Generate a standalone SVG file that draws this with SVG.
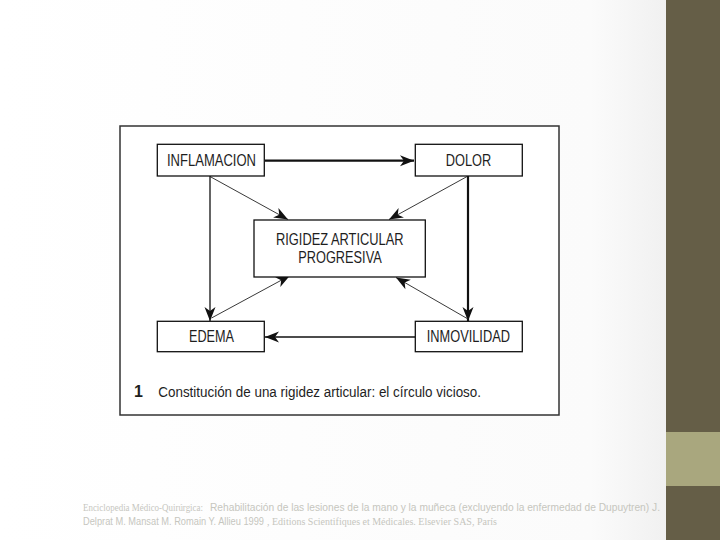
<svg xmlns="http://www.w3.org/2000/svg" width="720" height="540" viewBox="0 0 720 540">
  <defs>
    <linearGradient id="bg" x1="0" y1="0" x2="1" y2="0">
      <stop offset="0" stop-color="#ffffff"/>
      <stop offset="0.82" stop-color="#fbfbfb"/>
      <stop offset="1" stop-color="#e9e9e9"/>
    </linearGradient>
    <marker id="ah" markerUnits="userSpaceOnUse" markerWidth="18" markerHeight="12" viewBox="-15 -6 17 12" refX="0" refY="0" orient="auto">
      <path d="M0,0 L-14,-5.5 L-10,0 L-14,5.5 Z" fill="#111"/>
    </marker>
  </defs>
  <style>
    .box { fill: #fff; stroke: #111; stroke-width: 1.3; }
    .lbl { font-family: "Liberation Sans", Arial, sans-serif; font-size: 17px; fill: #1e1e1e; }
    .thick { stroke: #111; stroke-width: 2.2; fill: none; marker-end: url(#ah); }
    .mid { stroke: #111; stroke-width: 1.3; fill: none; marker-end: url(#ah); }
    .thin { stroke: #222; stroke-width: 0.9; fill: none; marker-end: url(#ah); }
    .foot { font-size: 10.5px; fill: #c6c6be; }
    .serif { font-family: "Liberation Serif", "Times New Roman", serif; }
    .sans { font-family: "Liberation Sans", Arial, sans-serif; }
  </style>

  <rect x="0" y="0" width="720" height="540" fill="url(#bg)"/>
  <rect x="666" y="0" width="54" height="540" fill="#655e47"/>
  <rect x="666" y="432" width="54" height="54" fill="#a9a77e"/>

  <rect x="120" y="126" width="439" height="289" fill="#fff" stroke="#333" stroke-width="1.5"/>

  <g id="connectors">
    <line class="thick" x1="265" y1="160.7" x2="414" y2="160.7"/>
    <line class="thin" x1="210" y1="176.5" x2="288" y2="219.5"/>
    <line class="mid" x1="210" y1="176" x2="210" y2="321"/>
    <line class="thin" x1="468" y1="176" x2="389" y2="219.5"/>
    <line class="thick" x1="468" y1="176" x2="468" y2="321"/>
    <line class="thin" x1="211.5" y1="318" x2="290" y2="275.5"/>
    <line class="thin" x1="468" y1="319" x2="396" y2="277.5"/>
    <line class="mid" x1="415" y1="337" x2="265" y2="337"/>
  </g>

  <g id="inflamacion">
    <rect class="box" x="157.3" y="144.3" width="107" height="31.7"/>
    <text class="lbl" x="167" y="166" textLength="89" lengthAdjust="spacingAndGlyphs">INFLAMACION</text>
  </g>
  <g id="dolor">
    <rect class="box" x="415.3" y="144.3" width="107" height="31.7"/>
    <text class="lbl" x="445.7" y="166" textLength="45.5" lengthAdjust="spacingAndGlyphs">DOLOR</text>
  </g>
  <g id="rigidez">
    <rect class="box" x="254" y="220" width="171.3" height="57"/>
    <text class="lbl" x="276" y="244.5" textLength="127.5" lengthAdjust="spacingAndGlyphs">RIGIDEZ ARTICULAR</text>
    <text class="lbl" x="298.3" y="263" textLength="83.4" lengthAdjust="spacingAndGlyphs">PROGRESIVA</text>
  </g>
  <g id="edema">
    <rect class="box" x="157.3" y="321.3" width="107" height="30.4"/>
    <text class="lbl" x="189" y="342" textLength="45" lengthAdjust="spacingAndGlyphs">EDEMA</text>
  </g>
  <g id="inmovilidad">
    <rect class="box" x="415.3" y="321.3" width="107" height="30.4"/>
    <text class="lbl" x="426.7" y="342" textLength="83.3" lengthAdjust="spacingAndGlyphs">INMOVILIDAD</text>
  </g>

  <g id="caption">
    <text x="134" y="397" font-family="Liberation Sans, Arial, sans-serif" font-size="16" font-weight="bold" fill="#1e1e1e">1</text>
    <text x="158.3" y="397" font-family="Liberation Sans, Arial, sans-serif" font-size="15.5" fill="#1e1e1e" textLength="322.7" lengthAdjust="spacingAndGlyphs">Constitución de una rigidez articular: el círculo vicioso.</text>
  </g>

  <g id="footer">
    <text class="foot serif" transform="translate(83,511) scale(0.8487,1)" textLength="141.4" lengthAdjust="spacingAndGlyphs">Enciclopedia Médico-Quirúrgica:</text>
    <text class="foot sans" transform="translate(210,511) scale(0.9723,1)" textLength="462.8" lengthAdjust="spacingAndGlyphs">Rehabilitación de las lesiones de la mano y la muñeca (excluyendo la enfermedad de Dupuytren) J.</text>
    <text class="foot sans" transform="translate(83,525) scale(0.8736,1)" textLength="207.2" lengthAdjust="spacingAndGlyphs">Delprat M. Mansat M. Romain Y. Allieu 1999</text>
    <text class="foot serif" transform="translate(267,525) scale(0.952,1)" textLength="241.5" lengthAdjust="spacingAndGlyphs">, Editions Scientifiques et Médicales. Elsevier SAS, París</text>
  </g>
</svg>
